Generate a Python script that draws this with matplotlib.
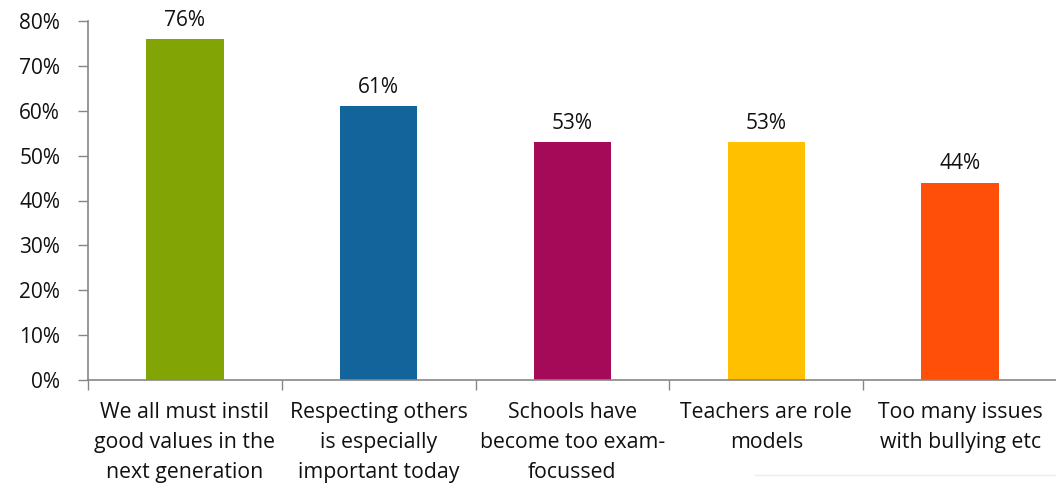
import matplotlib
matplotlib.use("Agg")
import matplotlib.pyplot as plt
from matplotlib.lines import Line2D

categories = [
    "We all must instil\ngood values in the\nnext generation",
    "Respecting others\nis especially\nimportant today",
    "Schools have\nbecome too exam-\nfocussed",
    "Teachers are role\nmodels",
    "Too many issues\nwith bullying etc",
]
values = [76, 61, 53, 53, 44]
colors = ["#82A505", "#13649B", "#A50A59", "#FFC000", "#FF4F08"]
yticks = [0, 10, 20, 30, 40, 50, 60, 70, 80]

plt.rcParams['font.family'] = ['Open Sans', 'DejaVu Sans']

fig = plt.figure(figsize=(10.56, 4.83), dpi=100)
ax = fig.add_axes([88/1056, 1 - 380/483, 1 - 88/1056 + 1/1056, (380 - 21)/483])

x = list(range(len(categories)))
ax.bar(x, values, width=0.40, color=colors, zorder=2)
for xi, v in zip(x, values):
    ax.annotate(f"{v}%", (xi, v), xytext=(0, 6), textcoords="offset points",
                ha="center", va="bottom", fontsize=15, color="#111111")

ax.set_xlim(-0.5, len(categories) - 0.5)
ax.set_ylim(0, 80)
ax.set_yticks(yticks)
ax.set_yticklabels([f"{t}%" for t in yticks], fontsize=15, color="#111111")

ax.set_xticks([i - 0.5 for i in range(len(categories) + 1)])
ax.set_xticklabels([])
ax.set_xticks(x, minor=True)
ax.set_xticklabels(categories, minor=True, fontsize=15.3, color="#111111", linespacing=1.56)
ax.tick_params(axis="x", which="minor", length=0, pad=16)
ax.tick_params(axis="x", which="major", length=7, width=1, color="#868686", direction="out")
ax.tick_params(axis="y", length=7, width=1, color="#868686", direction="out", pad=13)

for side in ["top", "right"]:
    ax.spines[side].set_visible(False)
for side in ["left", "bottom"]:
    ax.spines[side].set_color("#868686")
    ax.spines[side].set_linewidth(1.2)

fig.add_artist(Line2D([755/1056, 1.0], [1 - 475/483, 1 - 475/483],
                      transform=fig.transFigure, color="#ececec", linewidth=1))

fig.savefig("out.png", dpi=100)
